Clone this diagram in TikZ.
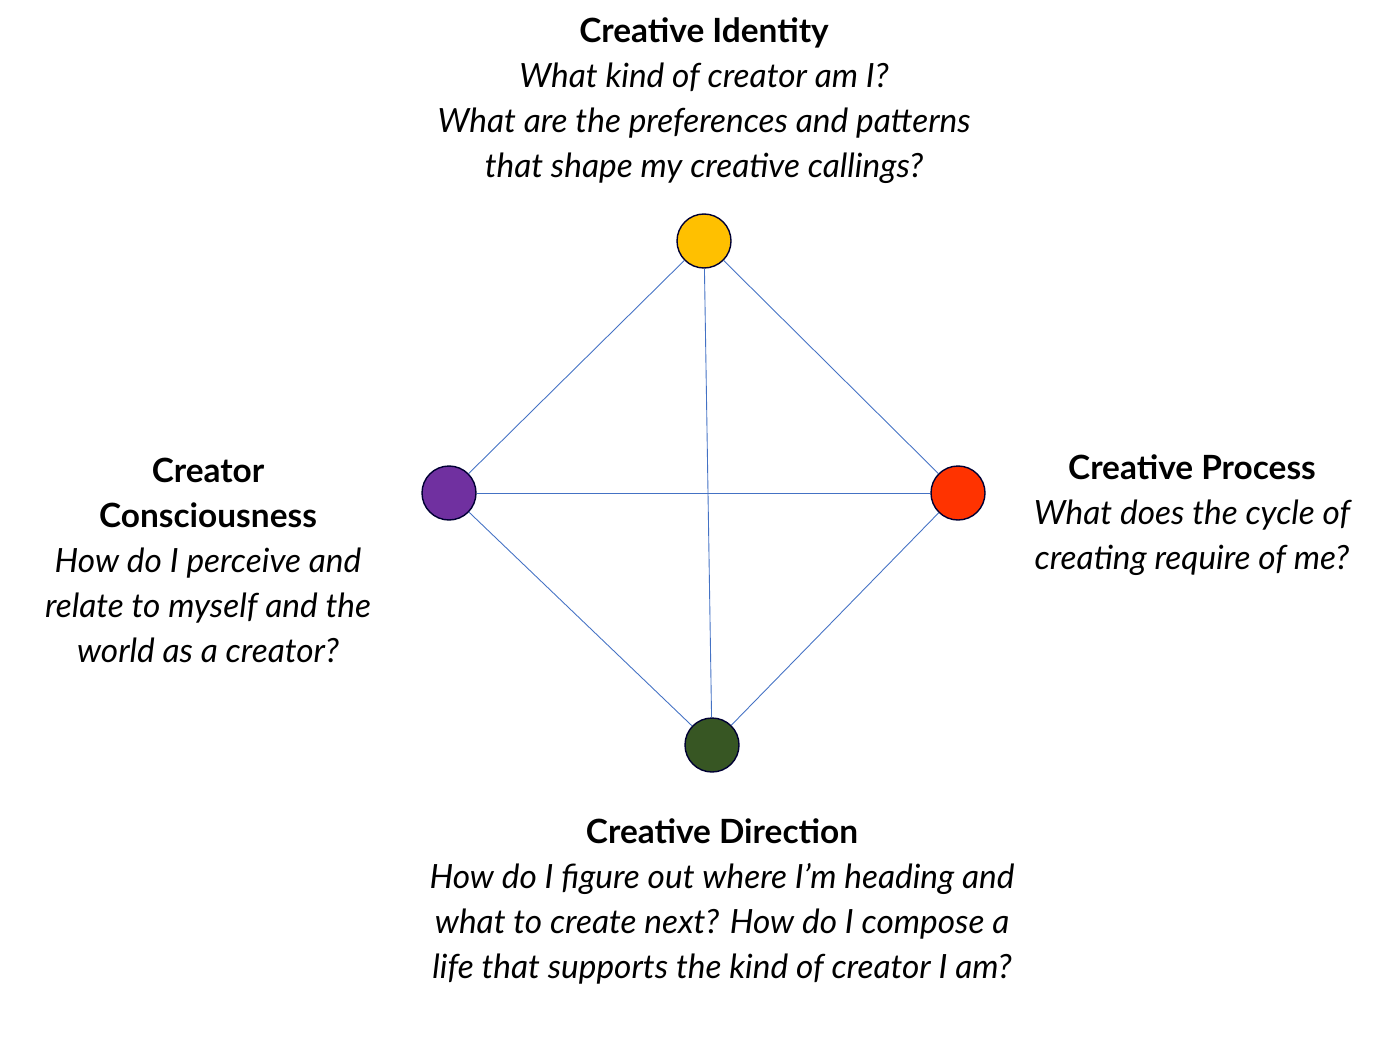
\documentclass[tikz,border=0pt]{standalone}
\usepackage{fontspec}
\setmainfont{Lato}
\usetikzlibrary{positioning}
\definecolor{identity}{HTML}{FFC000}
\definecolor{consc}{HTML}{7030A0}
\definecolor{process}{HTML}{FF3300}
\definecolor{direction}{HTML}{375623}
\definecolor{edge}{HTML}{4472C4}

\begin{document}
\begin{tikzpicture}[
    dot/.style={circle, draw=black!80!blue, thick, minimum size=1.08cm, inner sep=0pt},
    label/.style={align=center, font=\fontsize{19}{25.6}\selectfont\itshape},
    link/.style={edge, line width=0.5pt}]
    \useasboundingbox (0,0) rectangle (27.8,-20.9);

    % Circles
    \node[dot, fill=identity] (id) at (14.08, -4.82) {};
    \node[dot, fill=consc] (cc) at (8.98, -9.86) {};
    \node[dot, fill=process] (pr) at (19.16, -9.86) {};
    \node[dot, fill=direction] (dr) at (14.24, -14.9) {};

    % Links
    \draw[link] (id) -- (cc);
    \draw[link] (id) -- (pr);
    \draw[link] (id) -- (dr);
    \draw[link] (cc) -- (pr);
    \draw[link] (cc) -- (dr);
    \draw[link] (pr) -- (dr);

    % Texts
    \node[label] (idtext) at (14.08, -2.02) {{\upshape\bfseries Creative Identity}\\What kind of creator am I?\\What are the preferences and patterns\\that shape my creative callings?};
    \node[label] (cctext) at (4.16, -11.21) {{\upshape\bfseries Creator}\\{\upshape\bfseries Consciousness}\\How do I perceive and\\relate to myself and the\\world as a creator?};
    \node[label] (prtext) at (23.84, -10.31) {{\upshape\bfseries Creative Process}\\What does the cycle of\\creating require of me?};
    \node[label] (drtext) at (14.44, -18.02) {{\upshape\bfseries Creative Direction}\\How do I figure out where I’m heading and\\what to create next? How do I compose a\\life that supports the kind of creator I am?};
\end{tikzpicture}
\end{document}
